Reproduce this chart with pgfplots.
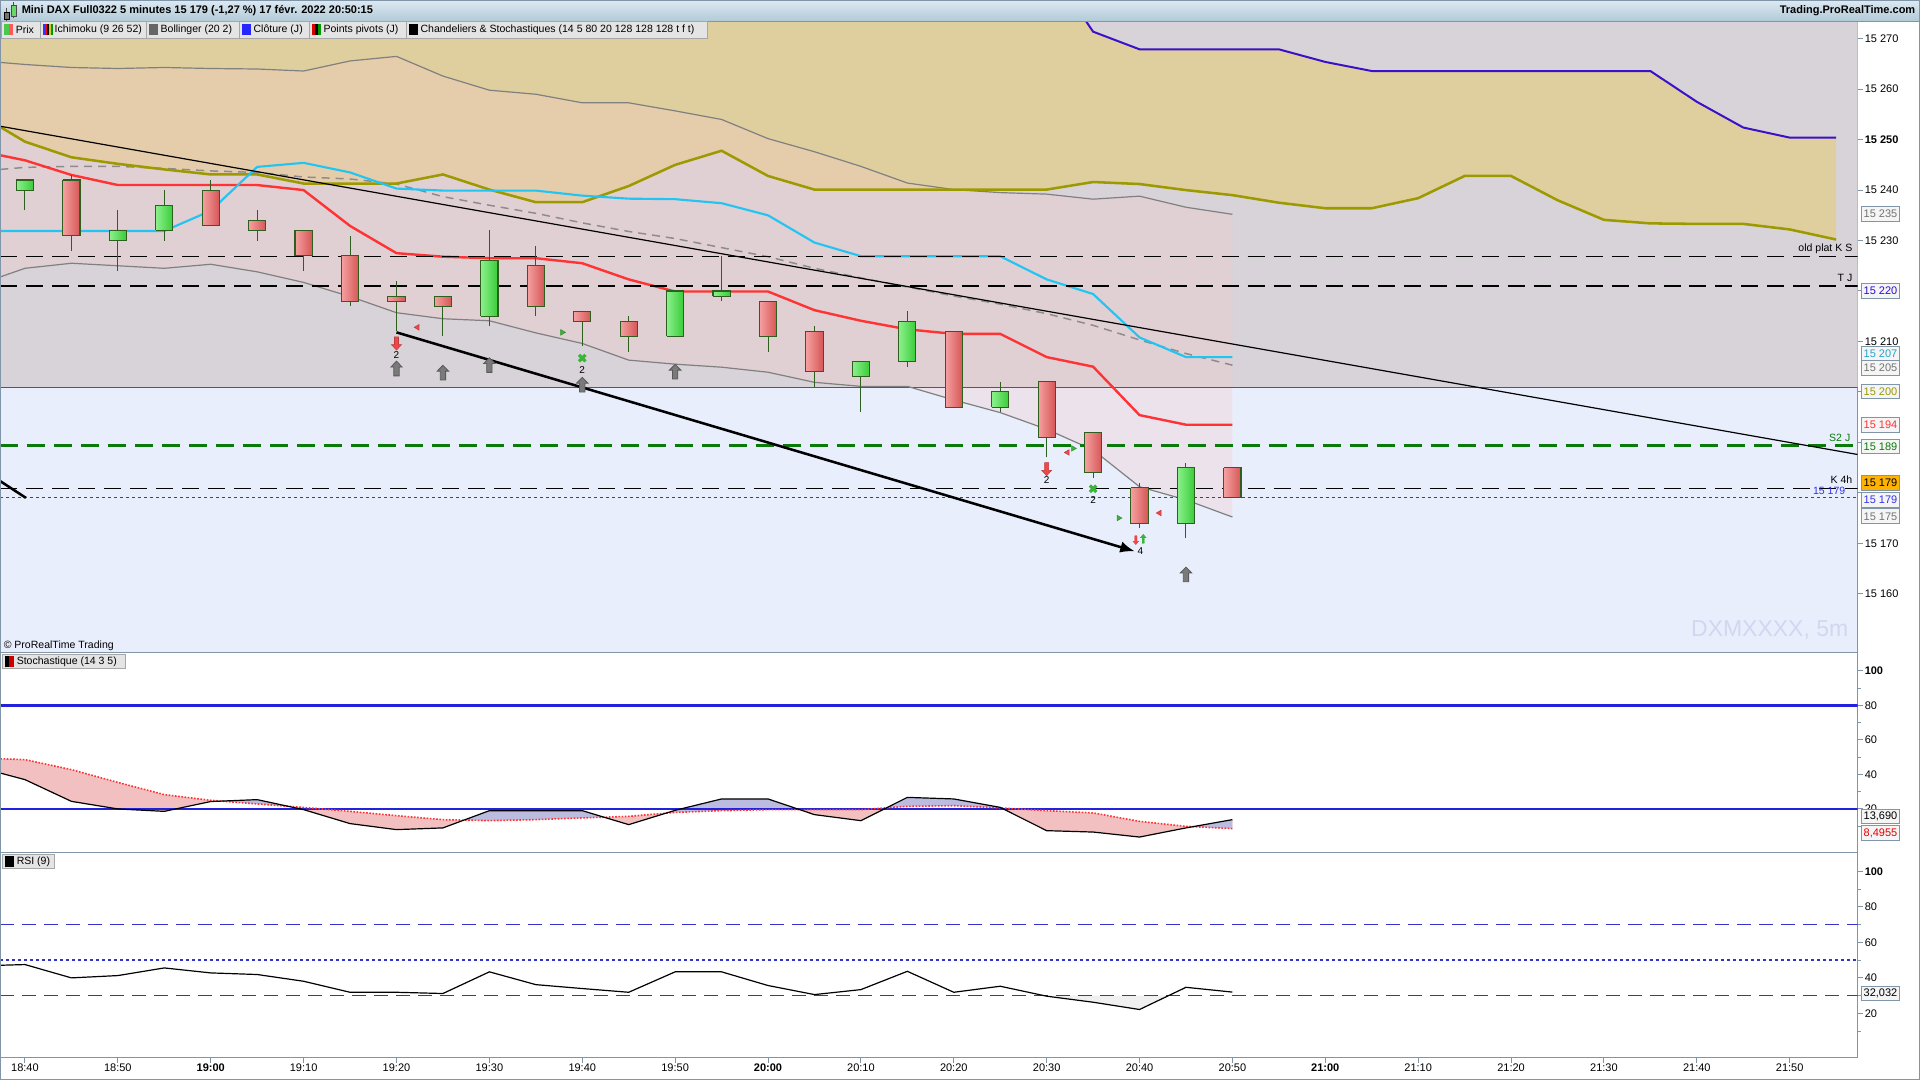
\documentclass[border=0pt]{standalone}
\usepackage{fontspec}
\setmainfont{Liberation Sans}
\usepackage{pgfplots}
\usepackage{pgfplotstable}
\pgfplotsset{compat=1.18}
\usetikzlibrary{arrows.meta}
\newcommand\fs[1]{\fontsize{#1}{#1}\selectfont}
\definecolor{bgblue}{HTML}{E8EEFC}
\definecolor{graybg}{HTML}{D7D3D9}
\definecolor{kumo}{HTML}{DFCF9F}
\definecolor{bbfill}{HTML}{F5C9C8}
\definecolor{framecol}{HTML}{8096A8}
\definecolor{olive}{HTML}{9C9A00}
\definecolor{purp}{HTML}{3A10C8}
\definecolor{redl}{HTML}{FF3333}
\definecolor{cyanl}{HTML}{22C4F2}
\definecolor{brownl}{HTML}{8B4A1A}
\definecolor{cborder}{HTML}{2F5F1F}
\definecolor{gL}{HTML}{8CF08C}
\definecolor{gR}{HTML}{38CC38}
\definecolor{rL}{HTML}{F5A0A0}
\definecolor{rR}{HTML}{D65656}
\definecolor{s2green}{HTML}{0A7A0A}
\definecolor{dotblue}{HTML}{3333EE}
\definecolor{stblue}{HTML}{2222DD}
\definecolor{stpink}{HTML}{F2C0C0}
\definecolor{stlav}{HTML}{BCBCE0}
\definecolor{rsiblue}{HTML}{3333CC}
\definecolor{arrgray}{HTML}{7A7A7A}
\definecolor{arrred}{HTML}{F04848}
\definecolor{crossg}{HTML}{3CB43C}
\definecolor{legbg}{HTML}{E4E4E4}
\definecolor{legframe}{HTML}{A7A7A7}
\definecolor{headT}{HTML}{DCE9F1}
\definecolor{headB}{HTML}{B2CAD8}
\definecolor{wmark}{HTML}{D0D8F0}

\pgfdeclareplotmark{uparr}{%
\pgfpathmoveto{\pgfqpoint{0pt}{5.6pt}}%
\pgfpathlineto{\pgfqpoint{4.3pt}{1.2pt}}%
\pgfpathlineto{\pgfqpoint{2pt}{1.2pt}}%
\pgfpathlineto{\pgfqpoint{2pt}{-5.4pt}}%
\pgfpathlineto{\pgfqpoint{-2pt}{-5.4pt}}%
\pgfpathlineto{\pgfqpoint{-2pt}{1.2pt}}%
\pgfpathlineto{\pgfqpoint{-4.3pt}{1.2pt}}%
\pgfpathclose\pgfusepathqfillstroke}
\pgfdeclareplotmark{downarr}{%
\pgfpathmoveto{\pgfqpoint{0pt}{-4.9pt}}%
\pgfpathlineto{\pgfqpoint{3.75pt}{-0.9pt}}%
\pgfpathlineto{\pgfqpoint{1.5pt}{-0.9pt}}%
\pgfpathlineto{\pgfqpoint{1.5pt}{4.9pt}}%
\pgfpathlineto{\pgfqpoint{-1.5pt}{4.9pt}}%
\pgfpathlineto{\pgfqpoint{-1.5pt}{-0.9pt}}%
\pgfpathlineto{\pgfqpoint{-3.75pt}{-0.9pt}}%
\pgfpathclose\pgfusepathqfillstroke}
\pgfdeclareplotmark{sdown}{%
\pgfpathmoveto{\pgfqpoint{0pt}{-3.4pt}}%
\pgfpathlineto{\pgfqpoint{2.4pt}{-0.6pt}}%
\pgfpathlineto{\pgfqpoint{0.9pt}{-0.6pt}}%
\pgfpathlineto{\pgfqpoint{0.9pt}{3.4pt}}%
\pgfpathlineto{\pgfqpoint{-0.9pt}{3.4pt}}%
\pgfpathlineto{\pgfqpoint{-0.9pt}{-0.6pt}}%
\pgfpathlineto{\pgfqpoint{-2.4pt}{-0.6pt}}%
\pgfpathclose\pgfusepathqfill}
\pgfdeclareplotmark{sup}{%
\pgfpathmoveto{\pgfqpoint{0pt}{3.4pt}}%
\pgfpathlineto{\pgfqpoint{2.4pt}{0.6pt}}%
\pgfpathlineto{\pgfqpoint{0.9pt}{0.6pt}}%
\pgfpathlineto{\pgfqpoint{0.9pt}{-3.4pt}}%
\pgfpathlineto{\pgfqpoint{-0.9pt}{-3.4pt}}%
\pgfpathlineto{\pgfqpoint{-0.9pt}{0.6pt}}%
\pgfpathlineto{\pgfqpoint{-2.4pt}{0.6pt}}%
\pgfpathclose\pgfusepathqfill}

\tikzset{
 wick/.style={draw=cborder, line width=0.75pt},
 upcandle/.style={draw=cborder, line width=0.8pt, left color=gL, right color=gR},
 downcandle/.style={draw=cborder, line width=0.8pt, left color=rL, right color=rR},
}
\newcommand\candle[5]{%
  \pgfmathsetmacro\cxa{#1-0.185}\pgfmathsetmacro\cxb{#1+0.185}%
  \pgfmathtruncatemacro\isup{#5>#2}%
  \ifnum\isup=1 \def\cstyle{upcandle}\else\def\cstyle{downcandle}\fi
  \edef\temp{\noexpand\addplot[wick,forget plot] coordinates {(#1,#4) (#1,#3)};
    \noexpand\addplot[\cstyle,forget plot] coordinates {(\cxa,#2) (\cxb,#2) (\cxb,#5) (\cxa,#5) (\cxa,#2)};}%
  \temp}

\pgfplotstableread{
x u m l red cyan
-0.53 15265.3 15244.1 15222.8 15246.9 15231.9
0 15264.9 15244.5 15224.5 15245.9 15231.9
1 15264.3 15244.7 15225.5 15243.0 15231.9
2 15264.1 15244.7 15225.0 15241.0 15231.9
3 15264.3 15244.3 15224.5 15241.0 15231.9
4 15264.1 15243.8 15225.3 15241.0 15235.9
5 15264.0 15243.5 15223.8 15241.0 15244.6
6 15263.6 15242.6 15221.7 15240.0 15245.4
7 15265.6 15242.2 15218.9 15232.9 15243.5
8 15266.5 15241.2 15215.7 15227.5 15240.3
9 15262.6 15238.7 15214.5 15226.8 15239.9
10 15259.8 15237.0 15214.1 15226.5 15239.9
11 15259.0 15235.4 15211.7 15226.5 15239.9
12 15257.3 15233.5 15209.6 15225.5 15238.9
13 15257.3 15231.8 15206.3 15222.3 15238.3
14 15255.7 15230.4 15205.5 15219.9 15238.2
15 15254.0 15228.6 15204.9 15219.9 15237.4
16 15250.2 15226.8 15203.9 15219.9 15235.0
17 15247.6 15224.5 15201.9 15216.2 15229.6
18 15244.7 15222.6 15201.1 15214.1 15226.9
19 15241.4 15220.8 15201.1 15212.4 15226.9
20 15240.1 15219.0 15198.4 15211.5 15226.9
21 15239.5 15217.4 15195.9 15211.5 15226.9
22 15239.2 15215.5 15192.6 15206.9 15222.3
23 15238.2 15213.2 15188.5 15205.0 15219.4
24 15238.8 15210.3 15181.2 15195.4 15210.8
25 15236.6 15207.6 15178.6 15193.5 15206.9
26 15235.2 15205.3 15175.2 15193.5 15206.9
}\bands

\pgfplotstableread{
x a b
-0.53 15252.5 15290
0 15249.6 15290
1 15246.5 15290
2 15245.2 15290
3 15244.1 15290
4 15243.1 15290
5 15243.1 15290
6 15241.3 15290
7 15241.3 15290
8 15241.3 15290
9 15243.1 15290
10 15240.1 15290
11 15237.6 15290
12 15237.6 15290
13 15240.8 15290
14 15245.0 15290
15 15247.8 15290
16 15242.8 15290
17 15240.1 15290
18 15240.1 15290
19 15240.1 15290
20 15240.1 15290
21 15240.1 15290
22 15240.1 15285
23 15241.6 15271.4
24 15241.2 15267.9
25 15240.0 15267.9
26 15239.0 15267.9
27 15237.5 15267.9
28 15236.4 15265.4
29 15236.4 15263.6
30 15238.4 15263.6
31 15242.8 15263.6
32 15242.8 15263.6
33 15238.0 15263.6
34 15234.1 15263.6
35 15233.4 15263.6
36 15233.3 15257.5
37 15233.3 15252.4
38 15232.2 15250.4
39 15230.2 15250.4
}\kumo

\pgfplotstableread{
x k d rsi
-0.53 40.7 49.0 47.1
0 36.9 48.5 47.5
1 24.3 42.7 40.0
2 19.9 35.3 41.3
3 18.5 28.2 45.6
4 24.2 24.9 42.8
5 25.3 22.8 41.9
6 19.5 20.8 38.1
7 11.4 18.5 31.9
8 7.9 16.0 31.9
9 8.9 13.7 31.2
10 18.9 13.1 43.4
11 18.9 13.7 36.2
12 18.9 14.7 34.0
13 10.8 15.6 31.9
14 19.1 17.9 43.4
15 25.7 18.9 43.4
16 25.7 19.5 35.7
17 16.6 19.5 30.6
18 13.1 19.5 33.4
19 26.6 21.4 43.7
20 25.7 21.8 31.9
21 20.8 20.5 35.3
22 7.3 18.9 29.7
23 6.5 17.6 26.3
24 3.6 12.7 22.2
25 8.9 9.8 34.7
26 13.7 8.5 32.0
}\osc

\begin{document}
\begin{tikzpicture}
\begin{scope}[x=0.75pt,y=0.75pt]
\fill[white] (0,0) rectangle (1920,1080);
\useasboundingbox (0,0) rectangle (1920,1080);
\end{scope}

% ================= MAIN PRICE PANEL =================
\begin{axis}[
 at={(0pt,320.25pt)}, anchor=south west, scale only axis,
 width=1393.5pt, height=474pt,
 xmin=-0.527, xmax=39.46, ymin=15148.3, ymax=15273.5,
 axis background/.style={fill=bgblue},
 axis line style={draw=framecol, line width=0.75pt},
 xtick=\empty, scaled y ticks=false,
 ytick={15160,15170,15180,15190,15200,15210,15220,15230,15240,15250,15260,15270},
 yticklabels={15 160,15 170,,,,15 210,,15 230,15 240,{\textbf{15 250}},15 260,15 270},
 ytick pos=right, tick align=outside, major tick length=3.75pt,
 tick style={draw=framecol, line width=0.75pt},
 yticklabel style={font=\fs{8.25pt}, inner sep=1.5pt},
]
% gray zone above 15200
\addplot[fill=graybg, draw=none, forget plot] coordinates {(-0.53,15200.8) (39.5,15200.8) (39.5,15274.5) (-0.53,15274.5)};
% ichimoku cloud (span A forward, span B back)
\addplot[fill=kumo, draw=none, forget plot] coordinates {(-0.53,15252.5) (0,15249.6) (1,15246.5) (2,15245.2) (3,15244.1) (4,15243.1) (5,15243.1) (6,15241.3) (7,15241.3) (8,15241.3) (9,15243.1) (10,15240.1) (11,15237.6) (12,15237.6) (13,15240.8) (14,15245.0) (15,15247.8) (16,15242.8) (17,15240.1) (18,15240.1) (19,15240.1) (20,15240.1) (21,15240.1) (22,15240.1) (23,15241.6) (24,15241.2) (25,15240.0) (26,15239.0) (27,15237.5) (28,15236.4) (29,15236.4) (30,15238.4) (31,15242.8) (32,15242.8) (33,15238.0) (34,15234.1) (35,15233.4) (36,15233.3) (37,15233.3) (38,15232.2) (39,15230.2)
 (39,15250.4) (38,15250.4) (37,15252.4) (36,15257.5) (35,15263.6) (29,15263.6) (28,15265.4) (27,15267.9) (24,15267.9) (23,15271.4) (22,15285) (-0.53,15285)};
% bollinger band fill (upper forward, lower back)
\addplot[fill=bbfill, fill opacity=0.3, draw=none, forget plot] coordinates {(-0.53,15265.3) (0,15264.9) (1,15264.3) (2,15264.1) (3,15264.3) (4,15264.1) (5,15264.0) (6,15263.6) (7,15265.6) (8,15266.5) (9,15262.6) (10,15259.8) (11,15259.0) (12,15257.3) (13,15257.3) (14,15255.7) (15,15254.0) (16,15250.2) (17,15247.6) (18,15244.7) (19,15241.4) (20,15240.1) (21,15239.5) (22,15239.2) (23,15238.2) (24,15238.8) (25,15236.6) (26,15235.2)
 (26,15175.2) (25,15178.6) (24,15181.2) (23,15188.5) (22,15192.6) (21,15195.9) (20,15198.4) (19,15201.1) (18,15201.1) (17,15201.9) (16,15203.9) (15,15204.9) (14,15205.5) (13,15206.3) (12,15209.6) (11,15211.7) (10,15214.1) (9,15214.5) (8,15215.7) (7,15218.9) (6,15221.7) (5,15223.8) (4,15225.3) (3,15224.5) (2,15225.0) (1,15225.5) (0,15224.5) (-0.53,15222.8)};
% brown 15200 line
\addplot[brownl, line width=0.9pt] coordinates {(-0.53,15200.8) (39.5,15200.8)};
% bollinger lines
\addplot[color=gray, line width=0.9pt] table[x=x, y=u] {\bands};
\addplot[color=gray, line width=0.9pt] table[x=x, y=l] {\bands};
\addplot[color=gray!90, line width=1.1pt, dash pattern=on 6pt off 4.5pt] table[x=x, y=m] {\bands};
% ichimoku lines
\addplot[olive, line width=1.9pt] table[x=x, y=a] {\kumo};
\addplot[purp, line width=1.5pt] table[x=x, y=b] {\kumo};
\addplot[redl, line width=1.8pt] table[x=x, y=red] {\bands};
\addplot[cyanl, line width=1.6pt] table[x=x, y=cyan] {\bands};
% horizontal levels
\addplot[black, line width=1pt, dash pattern=on 12.75pt off 6.75pt] coordinates {(-0.53,15226.9) (39.5,15226.9)};
\addplot[black, line width=1pt, dash pattern=on 12.75pt off 6.75pt] coordinates {(-0.53,15221) (39.5,15221)};
\addplot[s2green, line width=1.9pt, dash pattern=on 13.5pt off 6.75pt] coordinates {(-0.53,15189.4) (39.5,15189.4)};
\addplot[black, line width=1pt, dash pattern=on 12.75pt off 6.75pt] coordinates {(-0.53,15180.9) (39.5,15180.9)};
\addplot[dotblue, line width=0.9pt, dash pattern=on 2.25pt off 2.25pt] coordinates {(-0.53,15179) (39.5,15179)};
% trend lines
\addplot[black, line width=0.9pt] coordinates {(-0.53,15252.65) (39.46,15187.6)};
\addplot[black, line width=1.9pt] coordinates {(-0.53,15182.3) (0.02,15179.0)};
\addplot[black, line width=1.9pt, -{Latex[length=11pt,width=8.5pt]}] coordinates {(8,15211.8) (23.9,15168.4)};
% candles: x/open/high/low/close
\foreach \cx/\co/\ch/\cl/\cc in {
0/15240/15242/15236/15242, 1/15242/15243/15228/15231, 2/15230/15236/15224/15232,
3/15232/15240/15230/15237, 4/15240/15242/15233/15233, 5/15234/15236/15230/15232,
6/15232/15232/15224/15227, 7/15227/15231/15217/15218, 8/15219/15222/15212/15218,
9/15219/15219/15211/15217, 10/15215/15232/15213/15226, 11/15225/15229/15215/15217,
12/15216/15216/15209/15214, 13/15214/15215/15208/15211, 14/15211/15220/15211/15220,
15/15219/15227/15218/15220, 16/15218/15218/15208/15211, 17/15212/15213/15201/15204,
18/15203/15206/15196/15206, 19/15206/15216/15205/15214, 20/15212/15212/15197/15197,
21/15197/15202/15196/15200, 22/15202/15202/15187/15191, 23/15192/15192/15183/15184,
24/15181/15182/15173/15174, 25/15174/15186/15171/15185, 26/15185/15185/15179/15179}
{\candle{\cx}{\co}{\ch}{\cl}{\cc}}
% signal markers
\addplot[only marks, mark=uparr, mark options={fill=arrgray, draw=black!65, line width=0.6pt}]
 coordinates {(8,15204.6) (9,15203.8) (10,15205.3) (12,15201.4) (14,15204.0) (25,15163.8)};
\addplot[only marks, mark=downarr, mark options={fill=arrred, draw=arrred!80!black, line width=0.4pt}]
 coordinates {(8,15209.6) (22,15184.7)};
\addplot[only marks, mark=sdown, mark options={fill=arrred}] coordinates {(23.92,15170.6) (23.92,15170.6)};
\addplot[only marks, mark=sup, mark options={fill=crossg}] coordinates {(24.08,15170.9) (24.08,15170.9)};
\addplot[only marks, mark=x, mark size=3.4pt, mark options={draw=crossg, line width=2.4pt}]
 coordinates {(12,15206.7) (23,15180.8)};
\addplot[only marks, mark=triangle*, mark size=2.4pt, mark options={rotate=90, fill=arrred, draw=arrred!80!black}]
 coordinates {(8.45,15212.8) (22.45,15188) (24.43,15176)};
\addplot[only marks, mark=triangle*, mark size=2.4pt, mark options={rotate=-90, fill=crossg, draw=crossg!80!black}]
 coordinates {(11.57,15211.8) (22.57,15188.8) (23.55,15175)};
\addplot[only marks, mark=none, point meta=explicit symbolic, nodes near coords,
 nodes near coords style={anchor=center, font=\fs{7.5pt}, inner sep=0pt, text=black}]
 coordinates {(8,15207.4) [2] (12,15204.4) [2] (22,15182.5) [2] (23,15178.5) [2] (24.02,15168.5) [4]};
\end{axis}

% ================= STOCHASTIC PANEL =================
\begin{axis}[
 at={(0pt,170.25pt)}, anchor=south west, scale only axis,
 width=1393.5pt, height=150pt,
 xmin=-0.527, xmax=39.46, ymin=-5.45, ymax=110.5,
 axis background/.style={fill=white},
 axis line style={draw=framecol, line width=0.75pt},
 xtick=\empty, scaled y ticks=false,
 ytick={20,40,60,80,100}, yticklabels={20,40,60,80,{\textbf{100}}},
 minor ytick={10,30,50,70,90},
 ytick pos=right, tick align=outside, major tick length=3.75pt, minor tick length=2.25pt,
 tick style={draw=framecol, line width=0.75pt},
 yticklabel style={font=\fs{8.25pt}, inner sep=1.5pt},
]
% area between %K and %D (K forward, D back)
\addplot[fill=stpink, draw=none, forget plot] coordinates {(-0.53,40.7) (0,36.9) (1,24.3) (2,19.9) (3,18.5) (4,24.2) (5,25.3) (6,19.5) (7,11.4) (8,7.9) (9,8.9) (10,18.9) (11,18.9) (12,18.9) (13,10.8) (14,19.1) (15,25.7) (16,25.7) (17,16.6) (18,13.1) (19,26.6) (20,25.7) (21,20.8) (22,7.3) (23,6.5) (24,3.6) (25,8.9) (26,13.7)
 (26,8.5) (25,9.8) (24,12.7) (23,17.6) (22,18.9) (21,20.5) (20,21.8) (19,21.4) (18,19.5) (17,19.5) (16,19.5) (15,18.9) (14,17.9) (13,15.6) (12,14.7) (11,13.7) (10,13.1) (9,13.7) (8,16.0) (7,18.5) (6,20.8) (5,22.8) (4,24.9) (3,28.2) (2,35.3) (1,42.7) (0,48.5) (-0.53,49.0)};
% parts where %K is above %D
\addplot[fill=stlav, draw=none, forget plot] coordinates {(4.22,24.44) (5,25.3) (5.66,21.48) (5,22.8)};
\addplot[fill=stlav, draw=none, forget plot] coordinates {(9.45,13.43) (10,18.9) (11,18.9) (12,18.9) (12.47,15.12) (12,14.7) (11,13.7) (10,13.1)};
\addplot[fill=stlav, draw=none, forget plot] coordinates {(13.8,17.44) (14,19.1) (15,25.7) (16,25.7) (16.68,19.5) (16,19.5) (15,18.9) (14,17.9)};
\addplot[fill=stlav, draw=none, forget plot] coordinates {(18.55,20.55) (19,26.6) (20,25.7) (21,20.8) (21.03,20.46) (21,20.5) (20,21.8) (19,21.4)};
\addplot[fill=stlav, draw=none, forget plot] coordinates {(25.15,9.61) (26,13.7) (26,8.5)};
\addplot[stblue, line width=1.9pt] coordinates {(-0.53,80) (39.5,80)};
\addplot[stblue, line width=1.9pt] coordinates {(-0.53,20) (39.5,20)};
\addplot[redl, line width=1.2pt, dash pattern=on 1.2pt off 1.2pt] table[x=x, y=d] {\osc};
\addplot[black, line width=0.9pt] table[x=x, y=k] {\osc};
\end{axis}

% ================= RSI PANEL =================
\begin{axis}[
 at={(0pt,16.5pt)}, anchor=south west, scale only axis,
 width=1393.5pt, height=153.75pt,
 xmin=-0.527, xmax=39.46, ymin=-4.84, ymax=110.5,
 axis background/.style={fill=white},
 axis line style={draw=framecol, line width=0.75pt},
 scaled y ticks=false,
 xtick={0,2,...,38},
 xticklabels={18:40,18:50,{\textbf{19:00}},19:10,19:20,19:30,19:40,19:50,{\textbf{20:00}},20:10,20:20,20:30,20:40,20:50,{\textbf{21:00}},21:10,21:20,21:30,21:40,21:50},
 xtick pos=bottom,
 ytick={20,40,60,80,100}, yticklabels={20,40,60,80,{\textbf{100}}},
 minor ytick={10,30,50,70,90},
 ytick pos=right, tick align=outside, major tick length=3.75pt, minor tick length=2.25pt,
 tick style={draw=framecol, line width=0.75pt},
 yticklabel style={font=\fs{8.25pt}, inner sep=1.5pt},
 xticklabel style={font=\fs{8.25pt}, inner sep=1pt},
]
\addplot[fill=black!6, draw=none, forget plot] coordinates {(21.95,30) (22,29.7) (23,26.3) (24,22.2) (24.62,30)};
\addplot[rsiblue, line width=1pt, dash pattern=on 10.5pt off 6pt] coordinates {(-0.53,30) (39.5,30)};
\addplot[rsiblue, line width=1pt, dash pattern=on 10.5pt off 6pt] coordinates {(-0.53,70) (39.5,70)};
\addplot[rsiblue, line width=1pt, dash pattern=on 2.25pt off 2.25pt] coordinates {(-0.53,50) (39.5,50)};
\addplot[black, line width=0.9pt] table[x=x, y=rsi] {\osc};
\end{axis}

\begin{scope}[x=0.75pt,y=0.75pt]
% ================= HEADER =================
\shade[top color=headT, bottom color=headB] (0,1059) rectangle (1920,1080);
\draw[framecol, line width=0.75pt] (0,1059) -- (1920,1059);
\draw[black!70, line width=0.75pt] (6,1058) -- (6,1072);
\filldraw[fill=black!55, draw=black] (3.5,1061) rectangle (8.5,1068);
\draw[black!70, line width=0.75pt] (13,1062) -- (13,1078);
\filldraw[fill=green!75!black!60!white, draw=black!70] (10.5,1064) rectangle (15.5,1075);
\node[anchor=west, font=\fs{8.25pt}\bfseries, inner sep=0pt] at (21,1069.5) {Mini DAX Full0322 5 minutes 15 179 (-1,27 \%) 17 févr. 2022 20:50:15};
\node[anchor=east, font=\fs{8.25pt}\bfseries, inner sep=0pt] at (1916,1069.5) {Trading.ProRealTime.com};

% legend row
\foreach \a/\b in {1.5/40.5, 40.5/146, 146/239, 239/309, 309/406, 406/707}
  {\filldraw[fill=legbg, draw=legframe, line width=0.75pt] (\a,1042) rectangle (\b,1058.5);}
\fill[green!70!black!70!white] (4,1045) rectangle (8.5,1056);
\fill[red!65] (8.5,1045) rectangle (13,1056);
\fill[blue!80] (43,1045) rectangle (45,1056);
\fill[red] (45,1045) rectangle (47,1056);
\fill[black] (47,1045) rectangle (49,1056);
\fill[yellow!80!black] (49,1045) rectangle (51,1056);
\fill[green!60!black] (51,1045) rectangle (52.5,1056);
\fill[black!60] (149,1045) rectangle (158,1056);
\fill[blue!85] (242,1045) rectangle (251,1056);
\fill[red!85!black] (312,1045) rectangle (315,1056);
\fill[black] (315,1045) rectangle (318,1056);
\fill[green!60!black] (318,1045) rectangle (321,1056);
\fill[black] (409,1045) rectangle (418,1056);
\node[anchor=west, font=\fs{7.9pt}, inner sep=0pt] at (15,1050.2) {Prix};
\node[anchor=west, font=\fs{7.9pt}, inner sep=0pt] at (54,1050.2) {Ichimoku (9 26 52)};
\node[anchor=west, font=\fs{7.9pt}, inner sep=0pt] at (160,1050.2) {Bollinger (20 2)};
\node[anchor=west, font=\fs{7.9pt}, inner sep=0pt] at (253,1050.2) {Clôture (J)};
\node[anchor=west, font=\fs{7.9pt}, inner sep=0pt] at (323,1050.2) {Points pivots (J)};
\node[anchor=west, font=\fs{7.9pt}, inner sep=0pt] at (420,1050.2) {Chandeliers \& Stochastiques (14 5 80 20 128 128 128 t f t)};

% texts in main panel
\node[anchor=west, font=\fs{7.9pt}, inner sep=0pt] at (3,433.5) {© ProRealTime Trading};
\node[anchor=east, font=\fs{17.25pt}, text=wmark, inner sep=0pt] at (1849,449.4) {DXMXXXX, 5m};
\node[anchor=east, font=\fs{7.9pt}, inner sep=0pt] at (1853,831.4) {old plat K S};
\node[anchor=east, font=\fs{7.9pt}, inner sep=0pt] at (1853,802) {T J};
\node[anchor=east, font=\fs{7.9pt}, inner sep=0pt, text=s2green] at (1851,641.6) {S2 J};
\node[anchor=east, font=\fs{7.9pt}, inner sep=0pt] at (1853,600) {K 4h};
\node[anchor=east, font=\fs{7.9pt}, inner sep=0pt, text=dotblue] at (1846,589) {15 179};

% panel titles
\filldraw[fill=legbg, draw=legframe, line width=0.75pt] (2,411) rectangle (125,425.5);
\fill[black] (4.5,413) rectangle (9,423.5);
\fill[red!80!black] (9,413) rectangle (13.5,423.5);
\node[anchor=west, font=\fs{7.9pt}, inner sep=0pt] at (16,418.2) {Stochastique (14 3 5)};
\filldraw[fill=legbg, draw=legframe, line width=0.75pt] (2,211) rectangle (54,225.5);
\fill[black] (4.5,213) rectangle (13.5,223.5);
\node[anchor=west, font=\fs{7.9pt}, inner sep=0pt] at (16,218.2) {RSI (9)};

% right value boxes
\newcommand\pbox[4]{\node[anchor=west, draw=framecol, fill=#3, text=#2, inner xsep=1.6pt, inner ysep=0pt, minimum height=11pt, font=\fs{8.25pt}, line width=0.75pt] at (1861.5,#1) {#4};}
\pbox{865.8}{black!55}{white!96!black}{15 235}
\pbox{789}{purp!80!blue}{white!96!black}{15 220}
\pbox{726.4}{cyanl!85!black}{white!96!black}{15 207}
\pbox{712.2}{black!55}{white!96!black}{15 205}
\pbox{688.5}{olive}{white!96!black}{15 200}
\pbox{655}{redl}{white!96!black}{15 194}
\pbox{633.4}{s2green}{white!96!black}{15 189}
\pbox{597}{black}{orange!60!yellow}{15 179}
\pbox{580}{dotblue}{white!96!black}{15 179}
\pbox{563.5}{black!55}{white!96!black}{15 175}
\pbox{263}{black}{white!96!black}{13,690}
\pbox{246.6}{red!90!black}{white!96!black}{8,4955}
\pbox{86.1}{black}{white!96!black}{32,032}

\draw[framecol, line width=0.75pt] (0.4,0.4) rectangle (1919.6,1079.6);
\end{scope}
\end{tikzpicture}
\end{document}
